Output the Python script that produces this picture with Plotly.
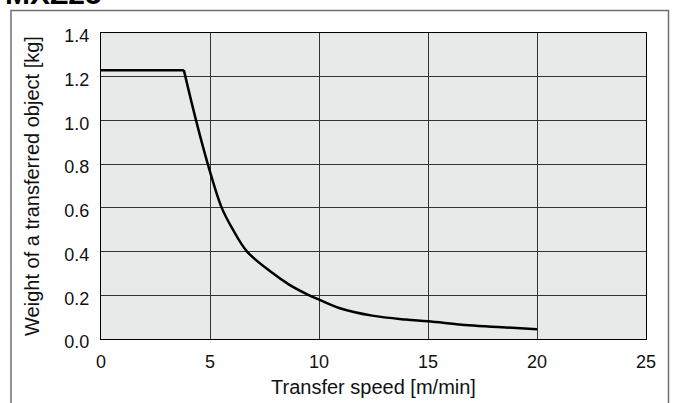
import plotly.graph_objects as go

speed = [0, 3.8, 4.36, 4.9, 5.54, 6.0, 6.7, 7.87, 8.63, 9.55, 10.0, 10.92, 12.44, 13.97, 15.0, 16.87, 18.39, 20.0]
weight = [1.23, 1.23, 1.0, 0.8, 0.6, 0.51, 0.4, 0.302, 0.249, 0.2, 0.18, 0.142, 0.107, 0.089, 0.081, 0.063, 0.054, 0.045]

x_ticks = [0, 5, 10, 15, 20, 25]
y_ticks = [0.0, 0.2, 0.4, 0.6, 0.8, 1.0, 1.2, 1.4]
y_tick_labels = ["0.0", "0.2", "0.4", "0.6", "0.8", "1.0", "1.2", "1.4"]

title_text = "MXZ25"
x_title = "Transfer speed [m/min]"
y_title = "Weight of a transferred object [kg]"

W, H = 675, 403
L, R, T, B = 101, 29, 33, 64
pw, ph = W - L - R, H - T - B

def px_to_paper_x(px):
    return (px - L) / pw

def px_to_paper_y(py):
    return (H - B - py) / ph

font = "Liberation Sans, Arial, Helvetica, sans-serif"

fig = go.Figure()
# flat (limit) part, straight segment
fig.add_trace(go.Scatter(
    x=speed[:2], y=weight[:2], mode="lines",
    line=dict(color="black", width=2.5),
    showlegend=False, hoverinfo="skip",
))
# decreasing part, smooth curve
fig.add_trace(go.Scatter(
    x=speed[1:], y=weight[1:], mode="lines",
    line=dict(color="black", width=2.5, shape="spline", smoothing=1.0),
    showlegend=False, hoverinfo="skip",
))

fig.update_layout(
    width=W, height=H,
    margin=dict(l=L, r=R, t=T, b=B, pad=0, autoexpand=False),
    paper_bgcolor="white",
    plot_bgcolor="#e8e9e9",
    font=dict(family=font, size=18, color="#111111"),
    xaxis=dict(
        range=[0, 25], tickvals=x_ticks, ticktext=[str(v) for v in x_ticks],
        showgrid=True, gridcolor="#333333", gridwidth=1,
        showline=True, linecolor="black", linewidth=1.2, mirror=True,
        zeroline=False, ticks="", ticklabelstandoff=6, automargin=False,
        title=dict(text=x_title, standoff=9, font=dict(size=20)),
        tickfont=dict(size=18),
    ),
    yaxis=dict(
        range=[0, 1.4], tickvals=y_ticks, ticktext=y_tick_labels,
        showgrid=True, gridcolor="#333333", gridwidth=1,
        showline=True, linecolor="black", linewidth=1.2, mirror=True,
        zeroline=False, ticks="", ticklabelstandoff=7, ticklabelshift=3,
        automargin=False,
        title=dict(text=y_title, standoff=19, font=dict(size=20)),
        tickfont=dict(size=18),
    ),
)

fig.add_annotation(
    text="<b>" + title_text + "</b>", xref="paper", yref="paper",
    x=px_to_paper_x(3), xanchor="left",
    y=px_to_paper_y(12), yanchor="bottom",
    showarrow=False, font=dict(family=font, size=30, color="black"),
)

fig.add_shape(
    type="rect", xref="paper", yref="paper",
    x0=px_to_paper_x(11), x1=px_to_paper_x(668.5),
    y0=px_to_paper_y(420), y1=px_to_paper_y(10.5),
    line=dict(color="#707070", width=1.5), fillcolor="rgba(0,0,0,0)",
    layer="below",
)

fig.write_html(
    "out.html",
    config={"displayModeBar": False},
    post_script="document.body.style.margin='0';document.body.style.overflow='hidden';",
)
